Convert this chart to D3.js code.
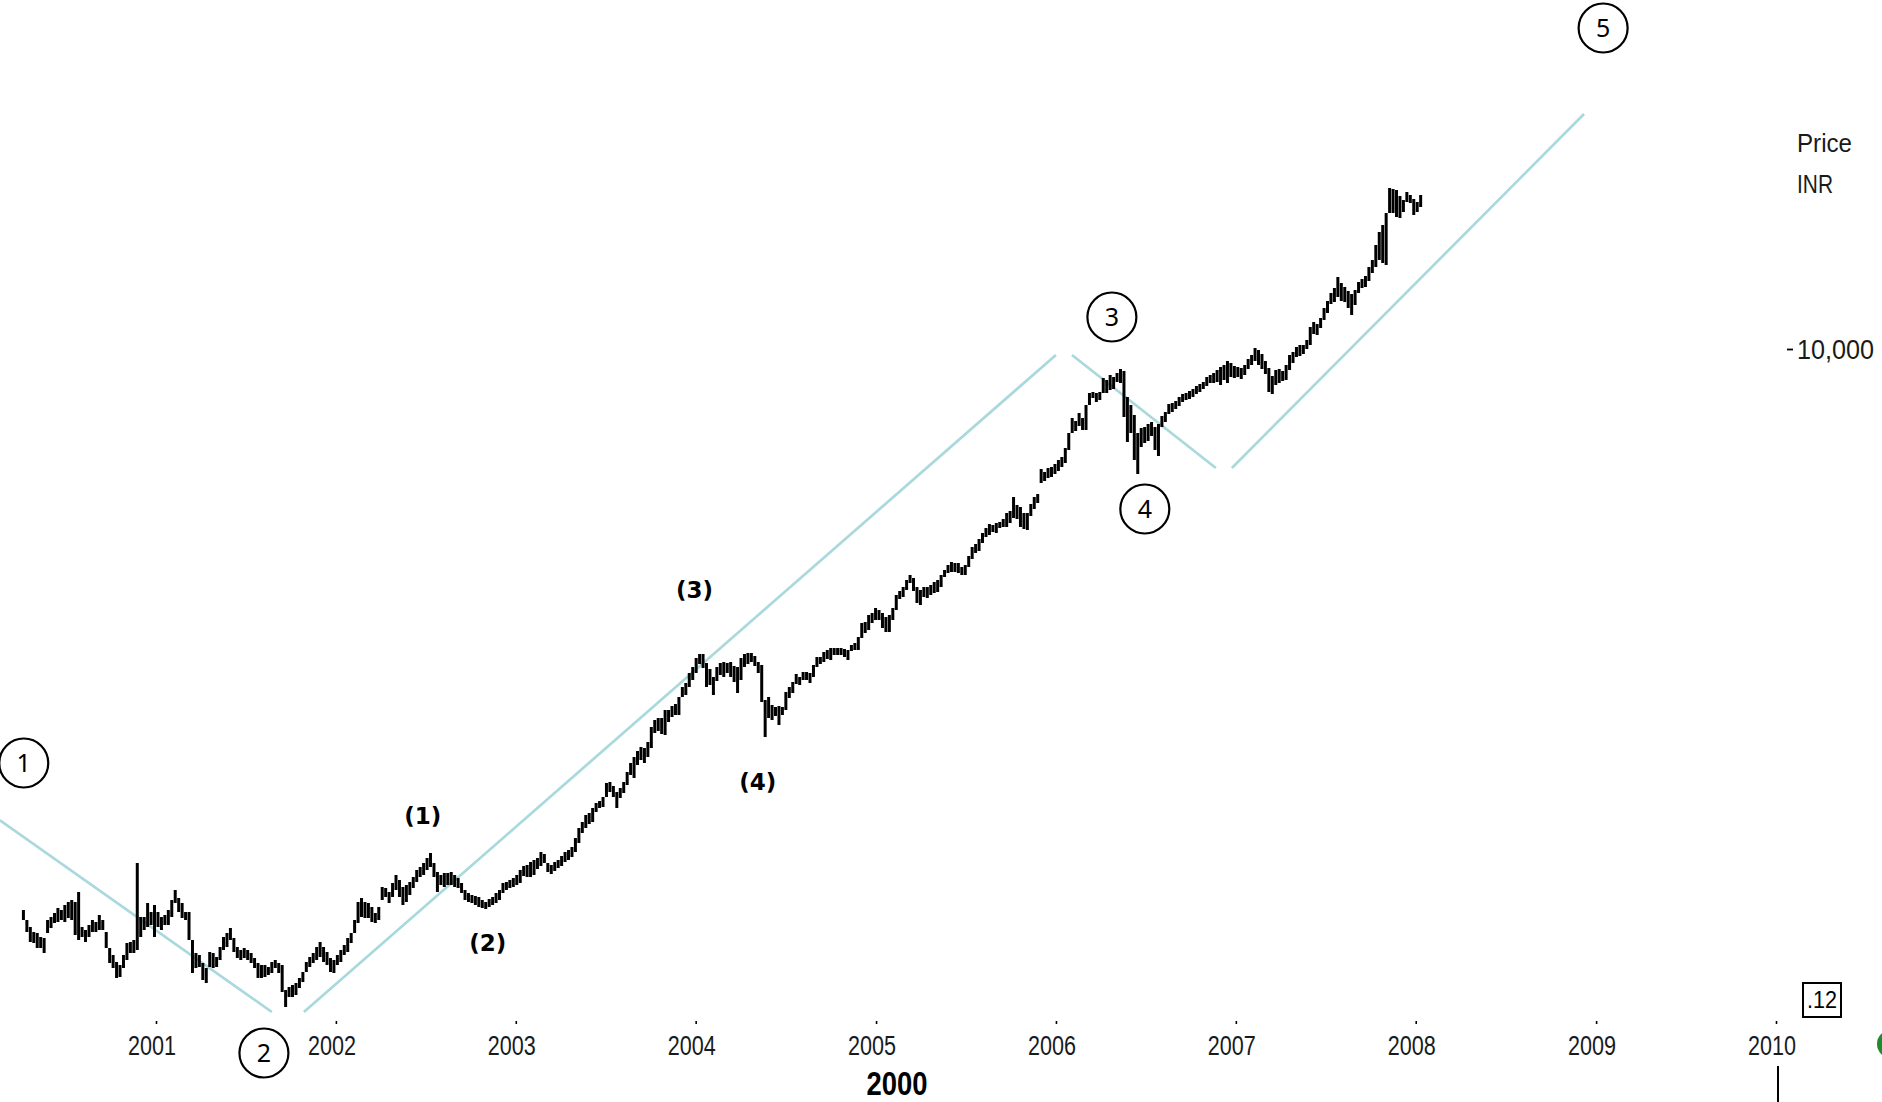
<!DOCTYPE html>
<html><head><meta charset="utf-8">
<script src="https://cdn.jsdelivr.net/npm/d3@7"></script>
<style>html,body{margin:0;padding:0;background:#fff;overflow:hidden}</style>
</head><body>
<svg id="chart" width="1882" height="1102"></svg>
<script>
// ---------- DATA (weekly high / low, INR) ----------
const firstWeek = "2000-04-07";

const highs2000_02 = [
4380,4280,4210,4160,4150,4110,4100,4280,4310,4350,
4400,4380,4430,4460,4480,4460,4560,4210,4180,4230,
4280,4260,4330,4280,4160,4000,3930,3860,3830,3930,
4050,4060,4080,4850,4310,4310,4450,4360,4430,4360,
4310,4330,4380,4480,4580,4500,4450,4360,4360,4080,
3950,3930,3850,3800,3960,3950,3910,4010,4110,4150,
4200,4100,4010,3980,4000,3980,3950,3900,3850,3830,
3830,3810,3860,3880,3850,3830,3580,3610,3630,3650,
3700,3760,3860,3910,3950,4010,4060,4010,3960,3900,
3880,3930,3980,4030,4100,4150,4280,4460,4500,4460,
4450,4410,4350,4410,4610,4600,4560,4650,4730,4680,
4610,4630,4660,4710,4780,4810,4850,4900,4950,4850,
4760,4730,4750,4750,4760,4730,4700,4650,4580,4550,
4530,4520,4510,4480,4460,4490,4510,4550,4580];
const lows2000_02 = [
4280,4160,4060,4050,4000,4000,3950,4150,4200,4250,
4260,4280,4260,4300,4280,4130,4080,4110,4060,4110,
4160,4160,4180,4180,4000,3850,3800,3700,3710,3800,
3880,3950,3950,3980,4110,4180,4210,4230,4110,4210,
4180,4230,4230,4310,4450,4360,4300,4280,4080,3750,
3800,3810,3680,3650,3810,3800,3810,3880,3980,4010,
4080,3960,3900,3880,3900,3880,3850,3800,3700,3700,
3710,3730,3750,3800,3750,3560,3410,3510,3510,3530,
3600,3660,3760,3810,3850,3880,3910,3860,3830,3760,
3750,3830,3860,3930,3960,4050,4150,4250,4310,4300,
4300,4260,4250,4280,4480,4510,4450,4510,4580,4510,
4430,4460,4530,4600,4660,4710,4730,4780,4810,4710,
4560,4630,4610,4630,4630,4610,4600,4550,4480,4460,
4450,4430,4410,4400,4390,4410,4430,4450,4480];

const highs2002_04 = [
4650,4660,4680,4700,4730,4780,4820,4830,4860,4880,
4900,4960,4940,4850,4830,4860,4880,4920,4960,4980,
5010,5100,5200,5260,5330,5350,5400,5450,5470,5510,
5650,5660,5620,5560,5600,5660,5760,5850,5910,5970,
6010,6000,6060,6210,6280,6300,6300,6380,6380,6420,
6440,6510,6610,6650,6750,6810,6900,6940,6940,6850,
6790,6710,6810,6850,6860,6850];
const lows2002_04 = [
4550,4580,4600,4610,4630,4650,4720,4710,4710,4730,
4790,4820,4850,4760,4740,4770,4800,4820,4860,4880,
4910,4960,5050,5150,5200,5240,5260,5360,5400,5410,
5510,5560,5510,5400,5500,5550,5630,5730,5700,5830,
5880,5850,5910,6000,6150,6170,6140,6130,6260,6310,
6330,6330,6510,6530,6610,6680,6750,6840,6800,6610,
6630,6530,6670,6730,6710,6750];

const highs2004_05 = [
6860,6820,6810,6900,6940,6950,6950,6920,6860,6830,
6480,6510,6430,6410,6420,6410,6560,6610,6660,6740,
6710,6760,6760,6750,6830,6910,6910,6960,6980,7000,
7000,7000,7000,6990,6980,7030,7050,7110,7250,7260,
7330,7350,7400,7380,7350,7310,7330,7400,7530,7570,
7610,7680,7730,7700,7610,7580,7610,7610,7630,7660,
7680,7730,7780,7830,7860,7850,7850,7810,7830,7920];
const lows2004_05 = [
6710,6660,6550,6680,6810,6840,6860,6820,6750,6460,
6110,6300,6280,6320,6230,6330,6380,6500,6550,6640,
6630,6680,6680,6650,6710,6810,6840,6860,6890,6880,
6930,6930,6930,6910,6880,6970,6980,6980,7100,7150,
7180,7250,7280,7280,7200,7160,7160,7280,7380,7490,
7510,7580,7650,7570,7450,7430,7510,7500,7530,7550,
7560,7610,7710,7750,7760,7760,7750,7730,7730,7810];

const highs2005_06 = [
8010,8040,8090,8150,8200,8240,8230,8250,8260,8290,
8350,8370,8510,8430,8410,8350,8350,8440,8510,8540,
8790,8760,8800,8810,8840,8880,8910,9000,9150,9300,
9270,9350,9300,9430,9550,9560,9550,9560,9700,9680,
9730,9710,9750,9790,9770,9510,9430,9330,9150,9200,
9210,9240,9260,9210,9240,9320,9360,9440,9450,9470,
9510,9540,9550,9570,9590,9620,9640,9660,9710,9730];
const lows2005_06 = [
7890,7950,7970,8050,8110,8130,8160,8150,8200,8210,
8210,8250,8300,8290,8210,8190,8180,8320,8390,8450,
8650,8670,8700,8710,8740,8770,8810,8850,8980,9150,
9170,9220,9180,9180,9430,9500,9460,9480,9550,9550,
9580,9590,9660,9650,9310,9060,9150,8880,8740,9010,
9050,9070,9120,8980,8920,9210,9260,9340,9360,9390,
9420,9460,9480,9490,9510,9540,9560,9590,9620,9650];

const highs2007_08 = [
9750,9780,9810,9830,9870,9850,9820,9810,9800,9830,
9890,9930,10000,9980,9940,9870,9800,9720,9780,9790,
9770,9830,9930,9960,10010,10030,10030,10080,10210,10260,
10240,10300,10400,10470,10550,10600,10710,10650,10610,10570,
10540,10580,10660,10690,10720,10810,10880,11030,11160,11230,
11350,11600,11590,11580,11520,11480,11560,11530,11490,11460,11530];
const lows2007_08 = [
9650,9660,9630,9680,9650,9710,9700,9710,9690,9730,
9790,9830,9870,9830,9790,9740,9560,9540,9630,9650,
9670,9680,9780,9850,9910,9920,9940,9990,10030,10140,
10130,10200,10280,10350,10440,10460,10510,10470,10460,10400,
10330,10430,10550,10600,10610,10670,10750,10810,10880,10850,
10830,11350,11350,11310,11300,11360,11460,11450,11330,11360,11410];

const yearTicks = [2001,2002,2003,2004,2005,2006,2007,2008,2009,2010];
const priceTicks = [10000];
const axisTitle = "2000";
const priceTitle = ["Price","INR"];

// trend channel lines: [decimal year, price]
const trendLines = [
  [[2000.133,5280],[2001.644,3360]],
  [[2001.822,3360],[2006.000,9930]],
  [[2006.089,9930],[2006.889,8800]],
  [[2006.978,8800],[2008.933,12340]]
];
// Elliott wave labels: [text, decimal year, price]
const majorWaves = [["1",2000.267,5850],["2",2001.600,2950],["3",2006.311,10310],["4",2006.494,8390],["5",2009.039,13200]];
const minorWaves = [["(1)",2002.483,5320],["(2)",2002.844,4050],["(3)",2003.994,7580],["(4)",2004.344,5660]];

// ---------- CHART ----------
const W = 1882, H = 1102;
const svg = d3.select("#chart");
svg.append("rect").attr("width",W).attr("height",H).attr("fill","#fff");

const decToDate = d => { const yr = Math.floor(d); const s = new Date(yr,0,1), e = new Date(yr+1,0,1); return new Date(+s + (d-yr)*(e-s)); };
const x = d3.scaleTime().domain([new Date(2001,0,1), new Date(2010,0,1)]).range([156,1776]);
const y = d3.scaleLinear().domain([3000,13000]).range([1048,48]);

const highs = [].concat(highs2000_02, highs2002_04, highs2004_05, highs2005_06, highs2007_08);
const lows  = [].concat(lows2000_02, lows2002_04, lows2004_05, lows2005_06, lows2007_08);
const start = d3.timeParse("%Y-%m-%d")(firstWeek);
const bars = highs.map((h,i) => ({date: d3.timeDay.offset(start, 7*i), high: h, low: lows[i]}));

// trend lines
svg.append("g").selectAll("line").data(trendLines).join("line")
  .attr("x1", d => x(decToDate(d[0][0]))).attr("y1", d => y(d[0][1]))
  .attr("x2", d => x(decToDate(d[1][0]))).attr("y2", d => y(d[1][1]))
  .attr("stroke","#a9d8dd").attr("stroke-width",2.7);

// price bars
svg.append("g").selectAll("line").data(bars).join("line")
  .attr("x1", d => x(d.date)).attr("x2", d => x(d.date))
  .attr("y1", d => y(d.high)).attr("y2", d => y(d.low))
  .attr("stroke","#000").attr("stroke-width",3);

// x axis
const gx = svg.append("g").attr("transform","translate(0,1021)")
  .call(d3.axisBottom(x).tickValues(yearTicks.map(v => new Date(v,0,1))).tickSize(3).tickFormat(d3.timeFormat("%Y")));
gx.select(".domain").remove();
gx.selectAll(".tick line").attr("stroke","#000").attr("stroke-width",1.6);
gx.selectAll(".tick text").attr("x",-4.5).attr("y",34).attr("dy",0)
  .attr("font-size",28).attr("font-family","'Liberation Sans', Arial, sans-serif").attr("fill","#1a1a1a")
  .attr("textLength",48).attr("lengthAdjust","spacingAndGlyphs");

svg.append("text").attr("x",897).attr("y",1095).attr("text-anchor","middle")
  .attr("font-family","'Liberation Sans', Arial, sans-serif").attr("font-weight","bold").attr("font-size",34)
  .attr("textLength",61).attr("lengthAdjust","spacingAndGlyphs").attr("fill","#000").text(axisTitle);

// y axis
const gy = svg.append("g").attr("transform","translate(1787,0)")
  .call(d3.axisRight(y).tickValues(priceTicks).tickSize(6).tickFormat(d3.format(",")));
gy.select(".domain").remove();
gy.selectAll(".tick line").attr("stroke","#000").attr("stroke-width",1.8).attr("transform","translate(0,1)");
gy.selectAll(".tick text").attr("x",10).attr("y",10).attr("dy",0)
  .attr("font-size",28).attr("font-family","'Liberation Sans', Arial, sans-serif").attr("fill","#1a1a1a")
  .attr("textLength",77).attr("lengthAdjust","spacingAndGlyphs");

svg.append("g").selectAll("text").data(priceTitle).join("text")
  .attr("x",1797).attr("y",(d,i) => 152 + i*41)
  .attr("font-size",25).attr("font-family","'Liberation Sans', Arial, sans-serif").attr("fill","#1a1a1a")
  .attr("textLength",(d,i) => i ? 36 : 55).attr("lengthAdjust","spacingAndGlyphs").text(d => d);

// major wave circles
const mj = svg.append("g").selectAll("g").data(majorWaves).join("g")
  .attr("transform", d => `translate(${x(decToDate(d[1]))},${y(d[2])})`);
mj.append("circle").attr("r",24.5).attr("fill","none").attr("stroke","#000").attr("stroke-width",2.2);
mj.append("text").attr("text-anchor","middle").attr("y",9)
  .attr("font-family","'Noto Sans', 'Liberation Sans', sans-serif").attr("font-size",25).attr("fill","#000").text(d => d[0]);

// minor wave labels
svg.append("g").selectAll("text").data(minorWaves).join("text")
  .attr("x", d => x(decToDate(d[1]))).attr("y", d => y(d[2]) + 8)
  .attr("text-anchor","middle").attr("font-family","'DejaVu Sans', sans-serif").attr("font-weight","bold")
  .attr("font-size",23).attr("fill","#000").text(d => d[0]);

// misc chart furniture
svg.append("rect").attr("x",1803).attr("y",983).attr("width",38).attr("height",34)
  .attr("fill","none").attr("stroke","#000").attr("stroke-width",2);
svg.append("text").attr("x",1822).attr("y",1008).attr("text-anchor","middle")
  .attr("font-family","'Liberation Sans', Arial, sans-serif").attr("font-size",23)
  .attr("textLength",30).attr("lengthAdjust","spacingAndGlyphs").text(".12");
svg.append("line").attr("x1",1778).attr("x2",1778).attr("y1",1066).attr("y2",1102)
  .attr("stroke","#000").attr("stroke-width",2);
svg.append("circle").attr("cx",1891).attr("cy",1044).attr("r",14).attr("fill","#1f8a2e");
</script>
</body></html>
